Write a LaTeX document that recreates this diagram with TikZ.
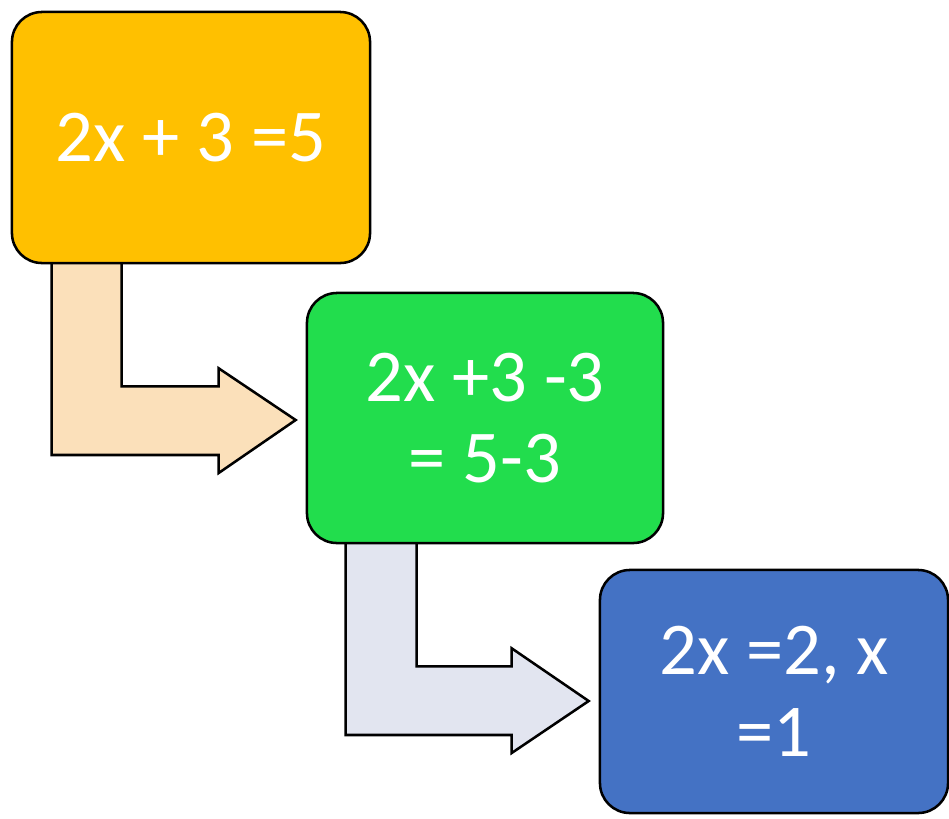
\documentclass[tikz,border=0pt]{standalone}
\usepackage{fontspec}
\setmainfont{Carlito}
\usetikzlibrary{calc,backgrounds}

\definecolor{stepyellow}{HTML}{FFC000}
\definecolor{stepgreen}{HTML}{22DD4D}
\definecolor{stepblue}{HTML}{4472C4}
\definecolor{arrowtan}{HTML}{FBE0BA}
\definecolor{arrowgray}{HTML}{E2E5F0}

\tikzset{
  stepbox/.style={draw=black, line width=1.8pt, rounded corners=0.75cm, text=white,
    align=center, inner sep=0pt, font=\fontsize{53}{58}\selectfont},
  bentarrow/.style={draw=black, line width=1.8pt, line join=miter}
}

\begin{document}
\begin{tikzpicture}[x=0.025cm, y=-0.025cm]
  \useasboundingbox (0,0) rectangle (949,818);

  % Define the three steps
  \node[stepbox, fill=stepyellow, minimum width=8.95cm, minimum height=6.275cm] (yel) at (191,137.5) {2x + 3 =5};
  \node[stepbox, fill=stepgreen, minimum width=8.9cm, minimum height=6.25cm] (grn) at (485,418) {2x +3 -3\\= 5-3};
  \node[stepbox, fill=stepblue, minimum width=8.7cm, minimum height=6.075cm] (blu) at (774,691.5) {2x =2, x\\=1};

  % Draw bent arrows behind the boxes
  \begin{scope}[on background layer]
    \coordinate (t1) at ($(grn.west)+(-10,2)$);
    \coordinate (t2) at ($(blu.west)+(-10,9.5)$);
    \draw[bentarrow, fill=arrowtan] ($(yel.south west)+(41,-5)$) -- ++(70,0) -- ++(0,127)
      -- ++(97,0) -- ++(0,-18) -- (t1) -- ++(-77,53) -- ++(0,-18) -- ++(-167,0) -- cycle;
    \draw[bentarrow, fill=arrowgray] ($(grn.south west)+(40,-5)$) -- ++(71,0) -- ++(0,127)
      -- ++(95,0) -- ++(0,-18) -- (t2) -- ++(-77,52) -- ++(0,-18) -- ++(-166,0) -- cycle;
  \end{scope}
\end{tikzpicture}
\end{document}
